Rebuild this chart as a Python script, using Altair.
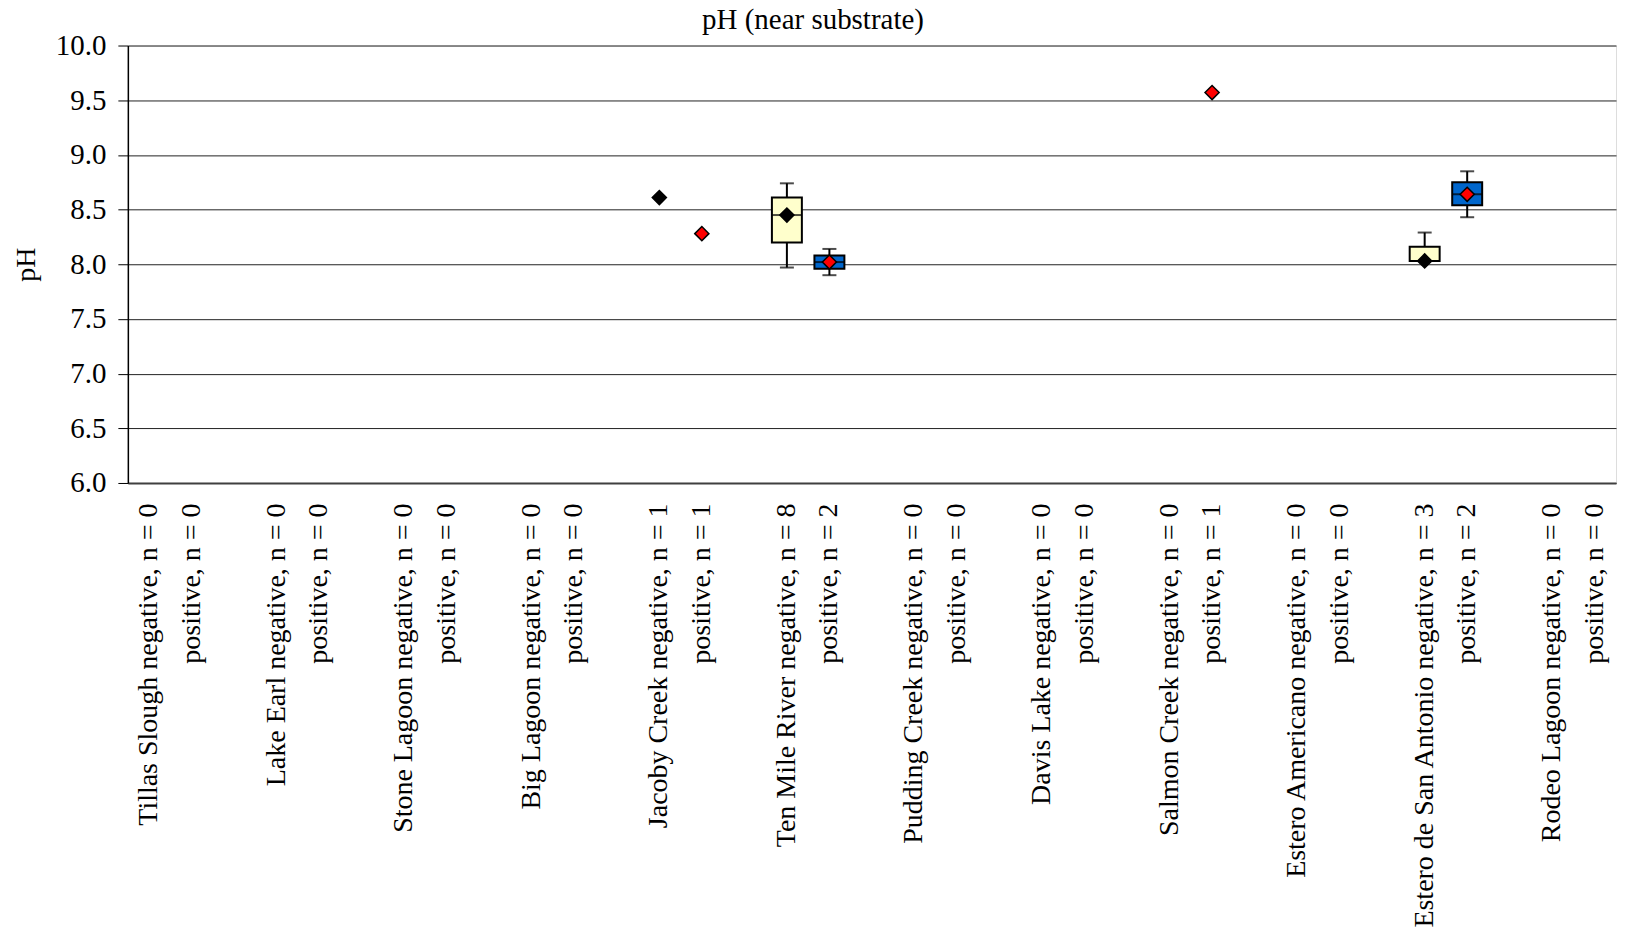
import altair as alt
import pandas as pd

# ---- data ----
sites = ["Tillas Slough", "Lake Earl", "Stone Lagoon", "Big Lagoon", "Jacoby Creek",
         "Ten Mile River", "Pudding Creek", "Davis Lake", "Salmon Creek",
         "Estero Americano", "Estero de San Antonio", "Rodeo Lagoon"]
n_negative = [0, 0, 0, 0, 1, 8, 0, 0, 0, 0, 3, 0]
n_positive = [0, 0, 0, 0, 1, 2, 0, 0, 1, 0, 2, 0]

box_site = ["Jacoby Creek", "Jacoby Creek", "Ten Mile River", "Ten Mile River",
            "Salmon Creek", "Estero de San Antonio", "Estero de San Antonio"]
box_status = ["negative", "positive", "negative", "positive",
              "positive", "negative", "positive"]
ph_min = [8.61, 8.28, 7.97, 7.90, 9.57, 8.03, 8.43]
ph_q1 = [8.61, 8.28, 8.20, 7.96, 9.57, 8.03, 8.54]
ph_median = [8.61, 8.28, 8.45, 8.02, 9.57, 8.03, 8.64]
ph_q3 = [8.61, 8.28, 8.61, 8.08, 9.57, 8.16, 8.75]
ph_max = [8.61, 8.28, 8.74, 8.14, 9.57, 8.29, 8.85]

y_ticks = [6.0, 6.5, 7.0, 7.5, 8.0, 8.5, 9.0, 9.5, 10.0]

# ---- build slot keys (negative, positive, gap per site) ----
slot_keys = []
key_of = {}
for i, s in enumerate(sites):
    kn = f"{i:02d}a|{s} negative, n = {n_negative[i]}"
    kp = f"{i:02d}b|positive, n = {n_positive[i]}"
    slot_keys += [kn, kp]
    key_of[(s, "negative")] = kn
    key_of[(s, "positive")] = kp
    if i < len(sites) - 1:
        slot_keys.append(f"{i:02d}c|")

n_lookup = {}
for i, s in enumerate(sites):
    n_lookup[(s, "negative")] = n_negative[i]
    n_lookup[(s, "positive")] = n_positive[i]

df = pd.DataFrame({
    "site": box_site,
    "status": box_status,
    "lo": ph_min,
    "q1": ph_q1,
    "med": ph_median,
    "q3": ph_q3,
    "hi": ph_max,
})
df["slot"] = [key_of[(s, st)] for s, st in zip(df.site, df.status)]
df["n"] = [n_lookup[(s, st)] for s, st in zip(df.site, df.status)]

FONT = "Liberation Serif"

x_enc = alt.X(
    "slot:N",
    sort=slot_keys,
    scale=alt.Scale(domain=slot_keys, paddingInner=0, paddingOuter=0),
    axis=alt.Axis(
        title=None,
        labelExpr="split(datum.value, '|')[1]",
        labelAngle=270,
        labelAlign="right",
        labelBaseline="middle",
        labelPadding=20,
        labelFont=FONT,
        labelFontSize=28,
        labelColor="black",
        labelLimit=600,
        labelOverlap=False,
        ticks=False,
        domainColor="#404040",
        domainWidth=2,
        grid=False,
    ),
)

y_scale = alt.Scale(domain=[6, 10], nice=False, zero=False)
y_axis = alt.Axis(
    values=y_ticks,
    format=".1f",
    tickSize=10,
    tickColor="black",
    tickWidth=1,
    domainColor="black",
    domainWidth=1.5,
    labelFont=FONT,
    labelFontSize=29,
    labelColor="black",
    labelPadding=12,
    grid=True,
    gridColor="#222222",
    gridWidth=1,
    title="pH",
    titleFont=FONT,
    titleFontSize=28,
    titleFontWeight="normal",
    titleColor="black",
    titleAngle=270,
    titleX=-101,
    titleY=219,
    titleAlign="center",
    titleBaseline="middle",
)

base = alt.Chart(df)
multi = base.transform_filter("datum.n > 1")

box_color = alt.Color("status:N",
                      scale=alt.Scale(domain=["negative", "positive"],
                                      range=["#FFFFCC", "#0066CC"]),
                      legend=None)
pt_color = alt.Color("status:N",
                     scale=alt.Scale(domain=["negative", "positive"],
                                     range=["#000000", "#FF0000"]),
                     legend=None)

whisk_lo = multi.mark_rule(color="black", strokeWidth=2).encode(
    x=x_enc, y=alt.Y("lo:Q", scale=y_scale, axis=y_axis), y2="q1:Q")
whisk_hi = multi.mark_rule(color="black", strokeWidth=2).encode(
    x=x_enc, y=alt.Y("q3:Q", scale=y_scale), y2="hi:Q")
cap_lo = multi.mark_tick(color="black", size=14, thickness=2).encode(
    x=x_enc, y=alt.Y("lo:Q", scale=y_scale))
cap_hi = multi.mark_tick(color="black", size=14, thickness=2).encode(
    x=x_enc, y=alt.Y("hi:Q", scale=y_scale))
box = multi.mark_bar(width=30, stroke="black", strokeWidth=2).encode(
    x=x_enc, y=alt.Y("q1:Q", scale=y_scale), y2="q3:Q", fill=box_color)
median = multi.mark_tick(color="black", size=30, thickness=2).encode(
    x=x_enc, y=alt.Y("med:Q", scale=y_scale))
diamond = base.mark_point(shape="diamond", filled=True, size=200,
                          stroke="black", strokeWidth=1.5, opacity=1).encode(
    x=x_enc, y=alt.Y("med:Q", scale=y_scale), fill=pt_color)

chart = alt.layer(whisk_lo, whisk_hi, cap_lo, cap_hi, box, median, diamond).resolve_scale(
    fill="independent"
).properties(
    width=1490,
    height=438,
    title=alt.TitleParams("pH (near substrate)", font=FONT, fontSize=29,
                          fontWeight="normal", color="black", anchor="middle",
                          dx=-59, dy=13, offset=10),
    autosize=alt.AutoSizeParams(type="none"),
    padding={"left": 120, "top": 37, "right": 3, "bottom": 445},
).configure_view(
    stroke="#808080", strokeWidth=1.5
).configure(background="white")

chart.save("out.html", embed_options={"renderer": "svg", "actions": False})
